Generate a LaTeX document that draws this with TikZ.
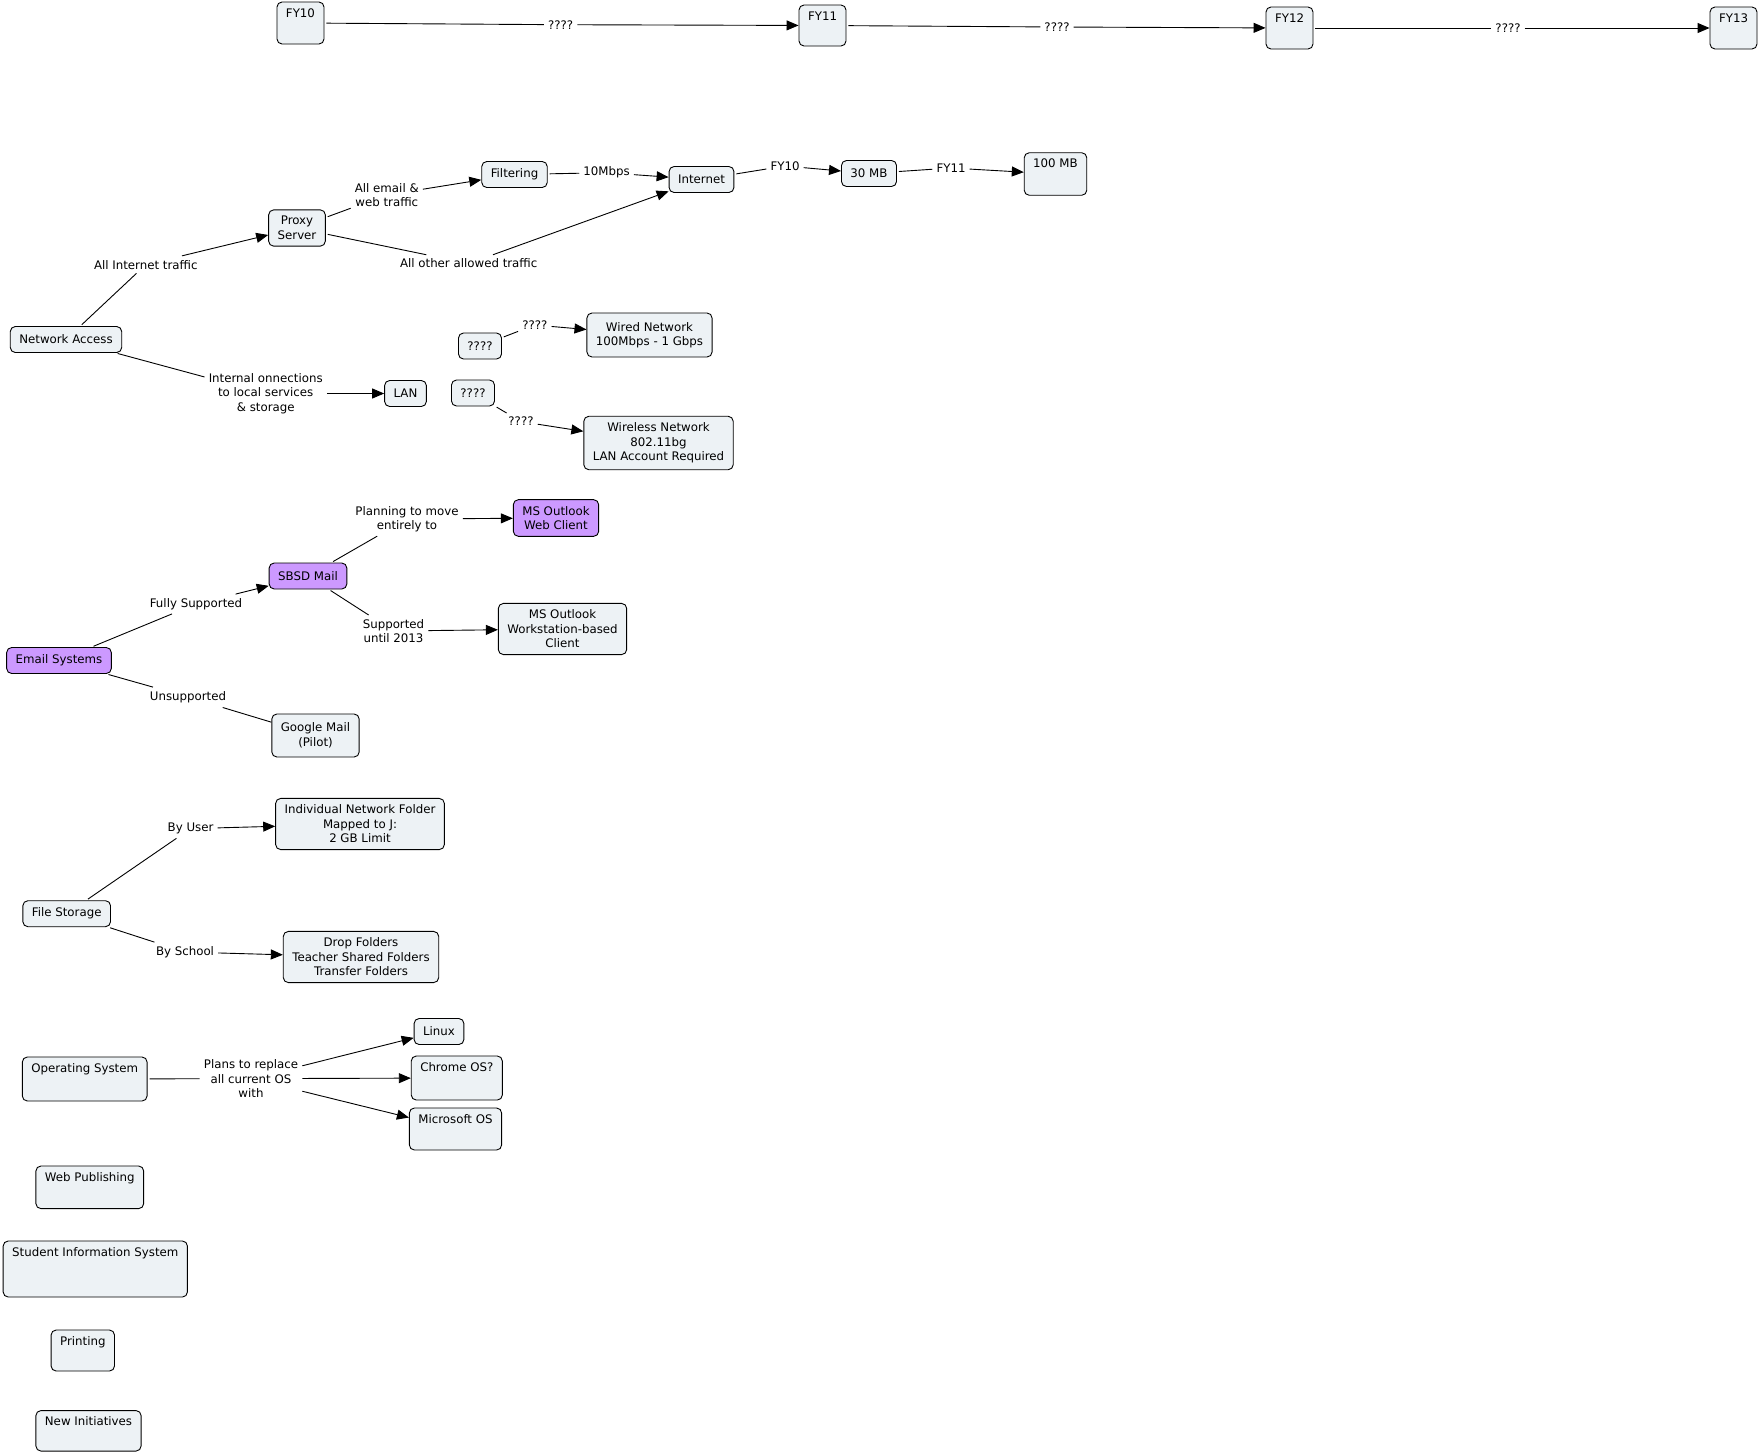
\documentclass[tikz,border=0pt]{standalone}
\usepackage{fontspec}
\setmainfont{DejaVu Sans}
\usetikzlibrary{arrows.meta, positioning}
\definecolor{boxfill}{RGB}{237,242,245}
\definecolor{mailfill}{RGB}{204,153,255}

\begin{document}
\begin{tikzpicture}[
    x=1pt, y=-1pt,
    font=\fontsize{11.8}{14.5}\selectfont,
    box/.style={draw, rounded corners=5pt, line width=0.9pt, fill=boxfill,
                align=center, inner xsep=9pt, inner ysep=6.5pt, minimum height=26pt},
    mailbox/.style={box, fill=mailfill},
    tbox/.style={box, inner ysep=6pt, text height=9pt, text depth=#1},
    phrase/.style={align=center, inner sep=4pt},
    con/.style={line width=0.9pt, shorten <=2pt},
    arr/.style={-{Triangle[length=12pt, width=10pt]}, line width=0.9pt},
]
    \useasboundingbox (0,0) rectangle (1758,1454);

    % Nodes
    \node[tbox=21pt, minimum width=45pt] (fy10) at (300.5,23) {FY10};
    \node[tbox=20pt, minimum width=45pt] (fy11) at (822.5,25.5) {FY11};
    \node[tbox=21pt, minimum width=45pt] (fy12) at (1289.5,28) {FY12};
    \node[tbox=21pt, minimum width=45pt] (fy13) at (1733.5,28) {FY13};

    \node[box] (net) at (66,339.5) {Network Access};
    \node[box] (proxy) at (297,228) {Proxy\\Server};
    \node[box] (filter) at (514.5,174.5) {Filtering};
    \node[box] (inet) at (701.5,179.5) {Internet};
    \node[box] (mb30) at (869,173.5) {30 MB};
    \node[tbox=21.5pt] (mb100) at (1055.5,174) {100 MB};
    \node[box] (lan) at (405.5,393.5) {LAN};
    \node[box] (qwired) at (480,346) {????};
    \node[box, minimum height=44pt] (wired) at (649.5,335) {Wired Network\\100Mbps - 1 Gbps};
    \node[box] (qwifi) at (473,393) {????};
    \node[box] (wifi) at (658.5,443) {Wireless Network\\802.11bg\\LAN Account Required};

    \node[mailbox] (email) at (59,660.5) {Email Systems};
    \node[mailbox] (sbsd) at (308,576) {SBSD Mail};
    \node[mailbox] (owa) at (556,518) {MS Outlook\\Web Client};
    \node[box] (outlook) at (562.5,629) {MS Outlook\\Workstation-based\\Client};
    \node[box, minimum height=43pt] (gmail) at (315.5,735.5) {Google Mail\\(Pilot)};

    \node[box] (files) at (66.7,913.7) {File Storage};
    \node[box] (indiv) at (360,824) {Individual Network Folder\\Mapped to J:\\2 GB Limit};
    \node[box] (drop) at (361,957) {Drop Folders\\Teacher Shared Folders\\Transfer Folders};

    \node[tbox=23pt] (os) at (84.7,1079) {Operating System};
    \node[box] (linux) at (439,1031.5) {Linux};
    \node[tbox=23pt] (chrome) at (456.8,1078) {Chrome OS?};
    \node[tbox=21pt] (msos) at (455.5,1129) {Microsoft OS};

    \node[tbox=21.6pt] (web) at (89.8,1187.3) {Web Publishing};
    \node[tbox=35pt] (sis) at (95.3,1269) {Student Information System};
    \node[tbox=20pt] (print) at (82.8,1350.5) {Printing};
    \node[tbox=19.5pt] (newinit) at (88.5,1430.8) {New Initiatives};

    % Linking phrases
    \node[phrase] (q1) at (560.6,24.7) {????};
    \node[phrase] (q2) at (1057,27) {????};
    \node[phrase] (q3) at (1508,28) {????};
    \node[phrase] (lall) at (145.8,264.6) {All Internet traffic};
    \node[phrase] (lmail) at (386.8,195) {All email \&\\web traffic};
    \node[phrase] (lother) at (468.7,263.5) {All other allowed traffic};
    \node[phrase] (l10) at (606.6,172.7) {10Mbps};
    \node[phrase] (lfy10) at (785,166) {FY10};
    \node[phrase] (lfy11) at (951,168) {FY11};
    \node[phrase] (lint) at (265.7,393.5) {Internal onnections\\to local services\\\& storage};
    \node[phrase] (lqw) at (534.8,325) {????};
    \node[phrase] (lqwl) at (521,421.6) {????};
    \node[phrase] (lplan) at (407,519) {Planning to move\\entirely to};
    \node[phrase] (lfully) at (196,604) {Fully Supported};
    \node[phrase] (lsupp) at (393.5,631) {Supported\\until 2013};
    \node[phrase] (lunsup) at (188,697) {Unsupported};
    \node[phrase] (luser) at (190.6,828.6) {By User};
    \node[phrase] (lschool) at (185,952) {By School};
    \node[phrase] (lplans) at (251,1078.6) {Plans to replace\\all current OS\\with};

    % Arrows
    \draw[con] (fy10) -- (q1);
    \draw[arr] (q1) -- (fy11);
    \draw[con] (fy11) -- (q2);
    \draw[arr] (q2) -- (fy12);
    \draw[con] (fy12) -- (q3);
    \draw[arr] (q3) -- (fy13);

    \draw[con] (net) -- (lall);
    \draw[arr] (lall) -- (proxy);
    \draw[con] (proxy) -- (lmail);
    \draw[arr] (lmail) -- (filter);
    \draw[con] (proxy) -- (lother);
    \draw[arr] (lother) -- (inet);
    \draw[con] (filter) -- (l10);
    \draw[arr] (l10) -- (inet);
    \draw[con] (inet) -- (lfy10);
    \draw[arr] (lfy10) -- (mb30);
    \draw[con] (mb30) -- (lfy11);
    \draw[arr] (lfy11) -- (mb100);
    \draw[con] (net) -- (lint);
    \draw[arr] (lint) -- (lan);
    \draw[con] (qwired) -- (lqw);
    \draw[arr] (lqw) -- (wired);
    \draw[con] (qwifi) -- (lqwl);
    \draw[arr] (lqwl) -- (wifi);

    \draw[con] (email) -- (lfully);
    \draw[arr] (lfully) -- (sbsd);
    \draw[con] (sbsd) -- (lplan);
    \draw[arr] (lplan) -- (owa);
    \draw[con] (sbsd) -- (lsupp);
    \draw[arr] (lsupp) -- (outlook);
    \draw[con] (email) -- (lunsup);
    \draw[con] (lunsup) -- (gmail);

    \draw[con] (files) -- (luser);
    \draw[arr] (luser) -- (indiv);
    \draw[con] (files) -- (lschool);
    \draw[arr] (lschool) -- (drop);

    \draw[con] (os) -- (lplans);
    \draw[arr] (lplans) -- (linux);
    \draw[arr] (lplans) -- (chrome);
    \draw[arr] (lplans) -- (msos);
\end{tikzpicture}
\end{document}
